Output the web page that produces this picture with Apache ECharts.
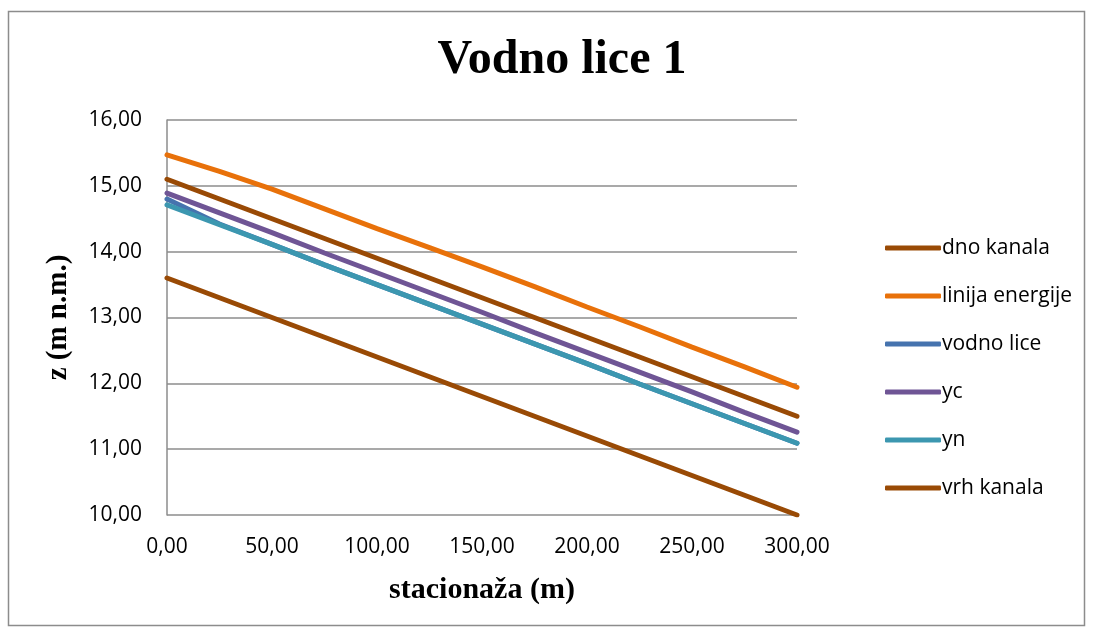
<!DOCTYPE html>
<html>
<head>
<meta charset="utf-8">
<script src="https://cdn.jsdelivr.net/npm/echarts@6/dist/echarts.min.js"></script>
<style>
  html, body { margin: 0; padding: 0; background: #fff; }
  #chart { width: 1093px; height: 632px; }
</style>
</head>
<body>
<div id="chart"></div>
<script>
// stacionaža (m)
var stations = [0, 25, 50, 75, 100, 125, 150, 175, 200, 225, 250, 275, 300]
var dnoKanala = [13.60, 13.30, 13.00, 12.70, 12.40, 12.10, 11.80, 11.50, 11.20, 10.90, 10.60, 10.30, 10.00]
var linijaEnergije = [15.47, 15.22, 14.95, 14.65, 14.35, 14.06, 13.77, 13.47, 13.16, 12.86, 12.55, 12.25, 11.94]
var vodnoLice = [14.80, 14.42, 14.11, 13.80, 13.50, 13.20, 12.90, 12.60, 12.30, 11.99, 11.69, 11.39, 11.09]
var yc = [14.89, 14.59, 14.29, 13.98, 13.68, 13.38, 13.08, 12.77, 12.47, 12.17, 11.87, 11.56, 11.26]
var yn = [14.71, 14.41, 14.11, 13.80, 13.50, 13.20, 12.90, 12.60, 12.30, 11.99, 11.69, 11.39, 11.09]
var vrhKanala = [15.10, 14.80, 14.50, 14.20, 13.90, 13.60, 13.30, 13.00, 12.70, 12.40, 12.10, 11.80, 11.50]

var names = ['dno kanala', 'linija energije', 'vodno lice', 'yc', 'yn', 'vrh kanala']
var colors = ['#994A05', '#E8710A', '#4673AE', '#6F5595', '#3C97B0', '#994A05']
var values = [dnoKanala, linijaEnergije, vodnoLice, yc, yn, vrhKanala]

function fmt(v) {
  return v.toFixed(2).replace('.', ',')
}

var chart = echarts.init(document.getElementById('chart'))
chart.setOption({
  animation: false,
  graphic: [{
    type: 'rect',
    shape: { x: 8.5, y: 11.5, width: 1076, height: 614 },
    style: { fill: 'none', stroke: '#8c8c8c', lineWidth: 1.5 }
  }],
  title: {
    text: 'Vodno lice 1',
    left: 557,
    top: 32,
    textAlign: 'center',
    textStyle: {
      fontFamily: 'Liberation Serif',
      fontWeight: 'bold',
      fontSize: 48,
      color: '#000'
    }
  },
  legend: {
    orient: 'vertical',
    left: 880,
    top: 231,
    itemWidth: 56,
    itemHeight: 5,
    itemGap: 24,
    icon: 'roundRect',
    data: names.map(function (n, i) {
      return { name: n, itemStyle: { color: colors[i] } }
    }),
    textStyle: {
      fontFamily: 'Open Sans',
      fontSize: 21,
      lineHeight: 24,
      color: '#000',
      padding: [0, 0, 0, -4]
    }
  },
  grid: {
    left: 167,
    right: 296,
    top: 120,
    bottom: 117
  },
  xAxis: {
    type: 'value',
    min: 0,
    max: 300,
    interval: 50,
    name: 'stacionaža (m)',
    nameLocation: 'middle',
    nameGap: 60,
    nameTextStyle: {
      fontFamily: 'Liberation Serif',
      fontWeight: 'bold',
      fontSize: 30,
      color: '#000'
    },
    axisLine: { show: false },
    axisTick: { show: false },
    splitLine: { show: false },
    axisLabel: {
      formatter: fmt,
      margin: 22,
      fontFamily: 'Open Sans',
      fontSize: 21,
      color: '#000'
    }
  },
  yAxis: {
    type: 'value',
    min: 10,
    max: 16,
    interval: 1,
    name: 'z (m n.m.)',
    nameLocation: 'middle',
    nameGap: 94,
    nameTextStyle: {
      fontFamily: 'Liberation Serif',
      fontWeight: 'bold',
      fontSize: 29,
      color: '#000'
    },
    axisLine: { show: true, lineStyle: { color: '#8c8c8c', width: 1.5 } },
    axisTick: { show: false },
    splitLine: { show: true, lineStyle: { color: '#8c8c8c', width: 1.5 } },
    axisLabel: {
      formatter: fmt,
      margin: 25,
      fontFamily: 'Open Sans',
      fontSize: 21,
      color: '#000'
    }
  },
  series: names.map(function (n, i) {
    return {
      name: n,
      type: 'line',
      data: stations.map(function (s, j) { return [s, values[i][j]] }),
      showSymbol: false,
      smooth: false,
      lineStyle: { color: colors[i], width: 5, cap: 'round' },
      itemStyle: { color: colors[i] }
    }
  })
})
</script>
</body>
</html>
